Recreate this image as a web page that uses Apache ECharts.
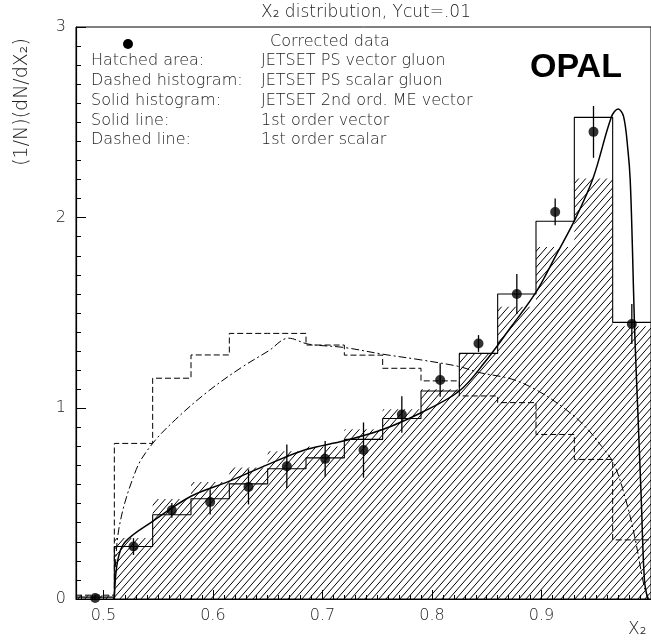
<!DOCTYPE html>
<html>
<head>
<meta charset="utf-8">
<script src="https://cdn.jsdelivr.net/npm/echarts@6/dist/echarts.min.js"></script>
<style>
html,body{margin:0;padding:0;background:#fff;}
#c{width:651px;height:640px;}
</style>
</head>
<body>
<div id="c"></div>
<script>
// Bin edges of the histograms (x2)
const binEdges = [0.475,0.51,0.545,0.58,0.615,0.65,0.685,0.72,0.755,0.79,0.825,0.86,0.895,0.93,0.965,1.0];
// Hatched area: JETSET PS vector gluon
const psVector = [0.02,0.32,0.525,0.613,0.69,0.775,0.80,0.89,0.995,1.10,1.29,1.533,1.846,2.205,1.43];
// Dashed histogram: JETSET PS scalar gluon
const psScalar = [0.02,0.816,1.158,1.28,1.393,1.393,1.332,1.279,1.21,1.144,1.065,1.03,0.863,0.732,0.31];
// Solid histogram: JETSET 2nd ord. ME vector
const meVector = [0.01,0.275,0.442,0.526,0.604,0.683,0.74,0.837,0.947,1.091,1.288,1.60,1.981,2.526,1.451];
// Corrected data
const dataX = [0.4925,0.5275,0.5625,0.5975,0.6325,0.6675,0.7025,0.7375,0.7725,0.8075,0.8425,0.8775,0.9125,0.9475,0.9825];
const dataY = [0.005,0.275,0.465,0.509,0.588,0.696,0.735,0.781,0.968,1.149,1.34,1.60,2.03,2.45,1.442];
const dataErr = [0.01,0.044,0.039,0.066,0.092,0.114,0.094,0.145,0.096,0.088,0.044,0.105,0.07,0.136,0.105];
// Solid line: 1st order vector
const vecX = [0.51,0.513,0.52,0.545,0.58,0.615,0.65,0.685,0.72,0.755,0.79,0.825,0.848,0.873,0.895,0.913,0.931,0.947,0.964,0.97,0.975,0.979,0.981,0.983,0.985,0.988,0.991,0.994,0.997];
const vecY = [0,0.2,0.3,0.407,0.539,0.618,0.705,0.784,0.83,0.889,0.977,1.091,1.24,1.433,1.609,1.80,1.995,2.205,2.53,2.57,2.53,2.35,2.2,1.85,1.42,0.98,0.54,0.1,0];
// Dashed line: 1st order scalar
const scX = [0.51,0.514,0.53,0.545,0.566,0.596,0.626,0.651,0.669,0.687,0.72,0.755,0.79,0.825,0.843,0.873,0.897,0.922,0.94,0.955,0.966,0.976,0.985,0.994,0.998];
const scY = [0,0.363,0.679,0.816,0.942,1.091,1.214,1.302,1.368,1.337,1.319,1.284,1.254,1.219,1.188,1.153,1.091,0.995,0.904,0.80,0.71,0.54,0.33,0.06,0];
// Axis tick labels
const xLabels = [0.5,0.6,0.7,0.8,0.9];
const xMajor = [0.5,0.6,0.7,0.8,0.9,1.0];

function stepData(vals){
  const d = vals.map((v,i)=>[binEdges[i], v]);
  d.push([binEdges[binEdges.length-1], vals[vals.length-1]]);
  return d;
}
function zip(a,b){ return a.map((v,i)=>[v,b[i]]); }

function makeHatch(){
  const c = document.createElement('canvas');
  const w = 7, h = 8;
  c.width = w; c.height = h;
  const g = c.getContext('2d');
  g.strokeStyle = '#000';
  g.lineWidth = 1;
  g.beginPath();
  g.moveTo(0,h); g.lineTo(w,0);
  g.moveTo(-w,h); g.lineTo(0,0);
  g.moveTo(w,h); g.lineTo(2*w,0);
  g.stroke();
  return c;
}
const hatch = makeHatch();

const minorX = [];
for (let i = 48; i <= 100; i++) minorX.push(i/100);

const FONT = '"DejaVu Sans"';
const txtCol = '#222';
function label(text, x, y, size, align){
  return {type:'text', x:x, y:y, silent:true,
    style:{text:text, fill:txtCol, font:'200 '+size+'px '+FONT, textAlign:align||'left', textVerticalAlign:'middle'}};
}

const chart = echarts.init(document.getElementById('c'), null, {renderer:'canvas'});
chart.setOption({
  animation:false,
  backgroundColor:'#fff',
  grid:{left:76, top:27, right:-2, bottom:41, show:true, borderColor:'#000', borderWidth:1},
  xAxis:[{
    type:'value', min:0.475, max:1.0,
    axisLine:{lineStyle:{color:'#000', width:1.2}},
    axisTick:{inside:true, length:9, customValues:xMajor, lineStyle:{color:'#000'}},
    axisLabel:{customValues:xLabels, margin:9, color:txtCol, fontSize:16, fontFamily:FONT, fontWeight:200,
      formatter:function(v){return v.toFixed(1);}},
    splitLine:{show:false}
  },{
    type:'value', min:0.475, max:1.0, position:'bottom',
    axisLine:{show:false},
    axisTick:{inside:true, length:4, customValues:minorX, lineStyle:{color:'#000'}},
    axisLabel:{show:false}, splitLine:{show:false}
  }],
  yAxis:{
    type:'value', min:0, max:3, interval:1,
    axisLine:{show:true, lineStyle:{color:'#000', width:1.2}},
    axisTick:{inside:true, length:10, lineStyle:{color:'#000'}},
    minorTick:{show:true, splitNumber:10, length:5, lineStyle:{color:'#000'}},
    axisLabel:{margin:10, color:txtCol, fontSize:16, fontFamily:FONT, fontWeight:200},
    splitLine:{show:false}
  },
  series:[
    {type:'line', name:'PS vector', step:'end', data:stepData(psVector), symbol:'none',
      lineStyle:{width:0}, areaStyle:{color:{image:hatch, repeat:'repeat'}, opacity:1}, z:1},
    {type:'line', name:'PS scalar', step:'end', data:stepData(psScalar), symbol:'none',
      lineStyle:{color:'#000', width:1, type:[6,3]}, z:2},
    {type:'line', name:'ME vector', step:'end', data:stepData(meVector), symbol:'none',
      lineStyle:{color:'#000', width:1.1}, z:3},
    {type:'line', name:'1st order vector', data:zip(vecX,vecY), symbol:'none', smooth:0.35,
      lineStyle:{color:'#000', width:1.5}, z:4},
    {type:'line', name:'1st order scalar', data:zip(scX,scY), symbol:'none', smooth:0.35,
      lineStyle:{color:'#000', width:1, type:[8,3,2,3]}, z:4},
    {type:'custom', name:'errors', data:dataX.map((x,i)=>[x,dataY[i],dataErr[i]]),
      renderItem:function(params, api){
        const x=api.value(0), y=api.value(1), e=api.value(2);
        const p1=api.coord([x,y-e]), p2=api.coord([x,y+e]);
        return {type:'line', shape:{x1:p1[0],y1:p1[1],x2:p2[0],y2:p2[1]}, style:{stroke:'#000', lineWidth:1.3}};
      }, z:5},
    {type:'scatter', name:'Corrected data', data:zip(dataX,dataY), symbol:'circle', symbolSize:10,
      itemStyle:{color:'#000'}, z:6}
  ],
  graphic:[
    label('X\u2082 distribution, Ycut=.01', 261, 13, 17),
    {type:'circle', shape:{cx:128, cy:44, r:5}, style:{fill:'#000'}, silent:true},
    label('Corrected data', 270, 42, 16),
    label('Hatched area:', 91, 61, 16),
    label('Dashed histogram:', 91, 81, 16),
    label('Solid histogram:', 91, 101, 16),
    label('Solid line:', 91, 121, 16),
    label('Dashed line:', 91, 140, 16),
    label('JETSET PS vector gluon', 261, 61, 16),
    label('JETSET PS scalar gluon', 261, 81, 16),
    label('JETSET 2nd ord. ME vector', 261, 101, 16),
    label('1st order vector', 261, 121, 16),
    label('1st order scalar', 261, 140, 16),
    {type:'text', x:530, y:68, silent:true,
      style:{text:'OPAL', fill:'#000', font:'bold 34px "Liberation Sans"', textAlign:'left', textVerticalAlign:'middle'}},
    label('X\u2082', 628, 630, 17),
    {type:'text', x:22, y:102, rotation:Math.PI/2, silent:true,
      style:{text:'(1/N)(dN/dX\u2082)', fill:txtCol, font:'200 19px '+FONT, textAlign:'center', textVerticalAlign:'middle'}}
  ]
});
</script>
</body>
</html>
